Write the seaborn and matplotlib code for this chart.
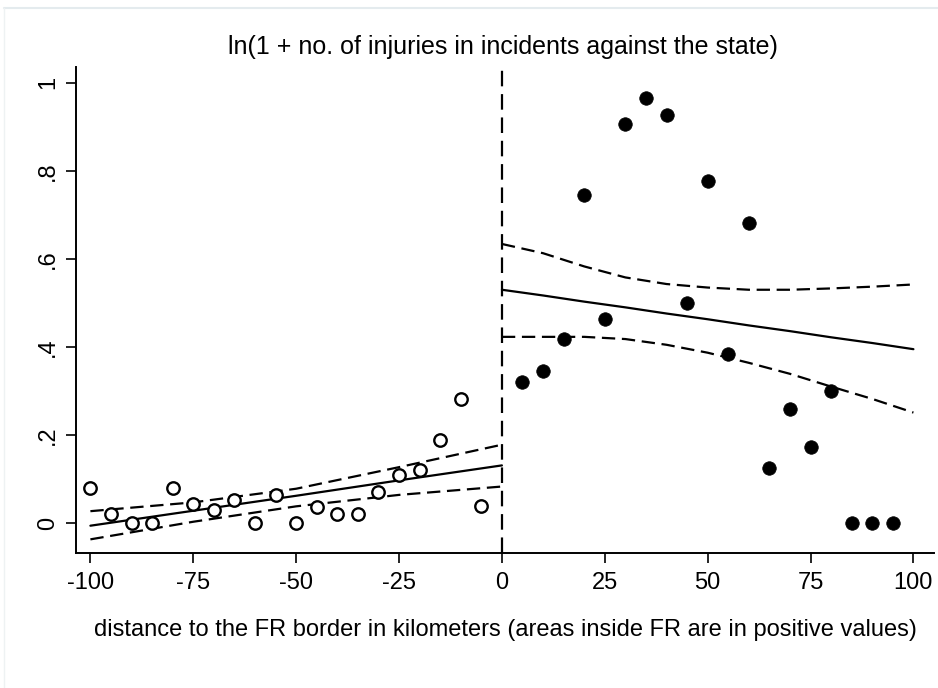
import numpy as np
import pandas as pd
import matplotlib
matplotlib.use("Agg")
import matplotlib.pyplot as plt
import seaborn as sns
from matplotlib.lines import Line2D

# --- data ---
# bins outside the FR (negative distance), open circles
left_x = [-100, -95, -90, -85, -80, -75, -70, -65, -60, -55,
          -50, -45, -40, -35, -30, -25, -20, -15, -10, -5]
left_y = [0.080, 0.020, 0.000, 0.000, 0.080, 0.043, 0.030, 0.052, 0.000, 0.064,
          0.000, 0.036, 0.020, 0.020, 0.071, 0.109, 0.120, 0.189, 0.281, 0.039]

# bins inside the FR (positive distance), filled circles
right_x = [5, 10, 15, 20, 25, 30, 35, 40, 45, 50,
           55, 60, 65, 70, 75, 80, 85, 90, 95]
right_y = [0.321, 0.345, 0.417, 0.745, 0.463, 0.906, 0.965, 0.927, 0.499, 0.777,
           0.383, 0.682, 0.126, 0.258, 0.173, 0.299, 0.000, 0.000, 0.000]

# fitted line and confidence band, left side
fit_left_x = [-100, -75, -50, -25, 0]
fit_left = [-0.006, 0.028, 0.062, 0.097, 0.131]
ci_left_hi = [0.027, 0.047, 0.078, 0.127, 0.178]
ci_left_lo = [-0.037, 0.003, 0.038, 0.064, 0.083]

# fitted line and confidence band, right side
fit_right_x = [0, 10, 20, 30, 40, 50, 60, 70, 80, 90, 100]
fit_right = [0.530, 0.517, 0.503, 0.490, 0.476, 0.463, 0.449, 0.436, 0.422, 0.409, 0.395]
ci_right_hi = [0.634, 0.613, 0.583, 0.558, 0.543, 0.535, 0.530, 0.530, 0.533, 0.537, 0.542]
ci_right_lo = [0.423, 0.423, 0.423, 0.418, 0.405, 0.387, 0.364, 0.339, 0.310, 0.282, 0.251]

x_ticks = [-100, -75, -50, -25, 0, 25, 50, 75, 100]
y_ticks = [0, 0.2, 0.4, 0.6, 0.8, 1.0]
y_tick_labels = ["0", ".2", ".4", ".6", ".8", "1"]

title = "ln(1 + no. of injuries in incidents against the state)"
xlabel = "distance to the FR border in kilometers (areas inside FR are in positive values)"

# --- style ---
sns.set_theme(style="white")
plt.rcParams["font.family"] = ["Liberation Sans", "DejaVu Sans"]
plt.rcParams["axes.unicode_minus"] = False

fig = plt.figure(figsize=(9.38, 6.88), dpi=100)
ax = fig.add_axes([76 / 938, 1 - 553 / 688, 858 / 938, 486 / 688])

left = pd.DataFrame({"x": left_x, "y": left_y})
right = pd.DataFrame({"x": right_x, "y": right_y})

lw = 1.6
dash = (6, 3)

# fitted lines and CI bands
sns.lineplot(x=fit_left_x, y=fit_left, ax=ax, color="black", lw=lw)
sns.lineplot(x=fit_left_x, y=ci_left_hi, ax=ax, color="black", lw=lw).lines[-1].set_dashes(dash)
sns.lineplot(x=fit_left_x, y=ci_left_lo, ax=ax, color="black", lw=lw).lines[-1].set_dashes(dash)
sns.lineplot(x=fit_right_x, y=fit_right, ax=ax, color="black", lw=lw)
sns.lineplot(x=fit_right_x, y=ci_right_hi, ax=ax, color="black", lw=lw).lines[-1].set_dashes(dash)
sns.lineplot(x=fit_right_x, y=ci_right_lo, ax=ax, color="black", lw=lw).lines[-1].set_dashes(dash)

# bin means
sns.scatterplot(data=left, x="x", y="y", ax=ax, s=80, facecolor="white",
                edgecolor="black", linewidth=1.7, zorder=3)
sns.scatterplot(data=right, x="x", y="y", ax=ax, s=95, color="black",
                edgecolor="black", linewidth=0.5, zorder=3)

# border line
ax.axvline(0, color="black", lw=lw, dashes=(7, 3.5), zorder=2)

ax.set_xlim(-103.5, 105)
ax.set_ylim(-0.068, 1.036)
ax.set_xticks(x_ticks)
ax.set_xticklabels([str(t) for t in x_ticks])
ax.set_yticks(y_ticks)
ax.set_yticklabels(y_tick_labels, rotation=90, va="center")

for side in ["top", "right"]:
    ax.spines[side].set_visible(False)
for side in ["left", "bottom"]:
    ax.spines[side].set_color("black")
    ax.spines[side].set_linewidth(1.4)

ax.tick_params(axis="both", direction="out", length=7, width=1.2, color="black",
               labelsize=17, labelcolor="black", left=True, bottom=True)
ax.tick_params(axis="x", pad=7)
ax.tick_params(axis="y", pad=5)

ax.set_xlabel(xlabel, fontsize=17, color="black")
ax.set_ylabel("")
ax.xaxis.set_label_coords(0.5, -0.158)
ax.xaxis.label.set_va("center")

fig.text(503 / 938, 1 - 47 / 688, title, ha="center", va="center", fontsize=18, color="black")

# faint frame of the original export
fig.add_artist(Line2D([4 / 938, 1], [1 - 8 / 688, 1 - 8 / 688], transform=fig.transFigure,
                      color="#e4ebee", lw=1.5))
fig.add_artist(Line2D([4 / 938, 4 / 938], [0, 1 - 8 / 688], transform=fig.transFigure,
                      color="#eef2f3", lw=1.0))

fig.savefig("out.png", dpi=100, facecolor="white")
